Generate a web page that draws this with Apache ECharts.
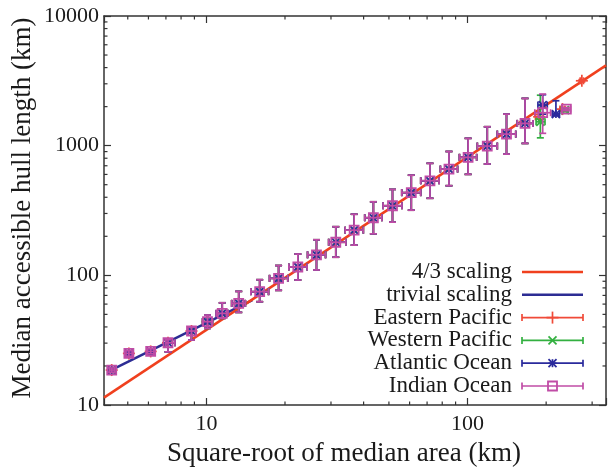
<!DOCTYPE html>
<html><head><meta charset="utf-8">
<script src="https://cdn.jsdelivr.net/npm/echarts@6/dist/echarts.min.js"></script>
<style>html,body{margin:0;padding:0;background:#fff}#c{width:609px;height:467px}</style>
</head><body><div id="c"></div><script>
// ---- axis ranges & ticks ----
const X_MIN = 4.055, X_MAX = 339;
const Y_MIN = 10, Y_MAX = 10000;
const xMinorTicks = [5, 6, 7, 8, 9, 20, 30, 40, 50, 60, 70, 80, 90, 200, 300];
const yMinorTicks = [20, 30, 40, 50, 60, 70, 80, 90, 200, 300, 400, 500, 600, 700, 800, 900, 2000, 3000, 4000, 5000, 6000, 7000, 8000, 9000];

// ---- fitted lines ----
const scaling43 = [[4.055, 11.4], [339, 4160]];
const scalingTrivial = [[4.3, 18.5], [15, 64.5]];

// ---- binned data shared by all four basins (they overlap in the plot) ----
const binX   = [4.34, 5.05, 6.12, 7.13, 8.77, 10.1, 11.5, 13.3, 16.0, 18.9, 22.4, 26.4, 31.3, 36.8, 43.6, 51.6, 60.9, 71.8, 84.9, 100.5, 119, 141, 166];
const binY   = [18.6, 25.0, 25.9, 30.2, 37.2, 43.9, 50.9, 60.8, 74.8, 94.8, 116, 144, 180, 223, 278, 344, 434, 536, 660, 813, 993, 1228, 1485];
const binYLo = [17.9, 23.8, 24.8, 25.7, 31.7, 39.0, 46.6, 51.8, 62.6, 76.6, 92, 110, 138, 171, 209, 257, 318, 393, 491, 601, 722, 861, 1041];
const binYHi = [19.3, 26.2, 27.1, 31.9, 40.0, 49.4, 61.4, 75.2, 92.5, 119, 146, 188, 237, 296, 369, 460, 592, 731, 902, 1139, 1399, 1751, 2315];
const binXLo = [4.25, 4.92, 5.95, 7.0, 8.5, 9.67, 10.9, 12.5, 14.8, 17.45, 20.7, 24.4, 29.4, 34.0, 40.4, 47.5, 56.0, 66.2, 78.7, 93.1, 109, 130, 155];
const binXHi = [4.45, 5.2, 6.3, 7.58, 9.1, 10.55, 12.1, 14.1, 17.3, 20.5, 24.3, 28.6, 34.2, 39.9, 47.0, 56.1, 66.2, 77.8, 91.6, 108.4, 130, 153, 178];

// ---- per-basin largest-size bins ----
const epTailX = [188, 231, 274],  epTailY = [1670, 1914, 3165];
const epTailXLo = [182, 226, 270], epTailXHi = [195, 236, 278];
const epTailYLo = [1600, 1860, 3100], epTailYHi = [1740, 1970, 3230];

const wpTailX = [190, 236], wpTailY = [1527, 1880];
const wpTailXLo = [183, 229], wpTailXHi = [198, 243];
const wpTailYLo = [1149, 1830], wpTailYHi = [2450, 1930];

const atTailX = [194, 218], atTailY = [2056, 1754];
const atTailXLo = [186, 211], atTailXHi = [202, 225];
const atTailYLo = [1750, 1700], atTailYHi = [2470, 2220];

const inTailX = [194, 239], inTailY = [1795, 1914];
const inTailXLo = [181, 230], inTailXHi = [208, 248];
const inTailYLo = [1245, 1860], inTailYHi = [2500, 1970];

const legendLabels = ['4/3 scaling', 'trivial scaling', 'Eastern Pacific', 'Western Pacific', 'Atlantic Ocean', 'Indian Ocean'];

// ---- styling ----
const FONT = 'Liberation Serif';
const RED = '#f0401e', NAVY = '#2c2c94';
const C_EP = '#f04a38', C_WP = '#33b040', C_AT = '#2a2a9c', C_IN = '#c04ca6';
const AX = '#333';

function rows(xs, ys, xl, xh, yl, yh) {
  return xs.map((x, i) => [x, ys[i], xl[i], xh[i], yl[i], yh[i]]);
}
function seg(x1, y1, x2, y2, color, lw) {
  return {type: 'line', shape: {x1, y1, x2, y2}, style: {stroke: color, lineWidth: lw || 1.7}};
}
function markerShapes(kind, cx, cy, color) {
  if (kind === 'plus') { const s = 6; return [seg(cx - s, cy, cx + s, cy, color), seg(cx, cy - s, cx, cy + s, color)]; }
  if (kind === 'cross') { const s = 4; return [seg(cx - s, cy - s, cx + s, cy + s, color), seg(cx - s, cy + s, cx + s, cy - s, color)]; }
  if (kind === 'star') { const s = 4; return [seg(cx - s, cy, cx + s, cy, color), seg(cx, cy - s, cx, cy + s, color), seg(cx - s, cy - s, cx + s, cy + s, color), seg(cx - s, cy + s, cx + s, cy - s, color)]; }
  const s = 4.5;
  return [{type: 'rect', shape: {x: cx - s, y: cy - s, width: 2 * s, height: 2 * s}, style: {stroke: color, lineWidth: 1.8, fill: 'none'}}];
}
function errRender(kind, color) {
  return function (params, api) {
    const x = api.value(0), y = api.value(1);
    const p = api.coord([x, y]);
    const pl = api.coord([api.value(2), y]), pr = api.coord([api.value(3), y]);
    const pb = api.coord([x, api.value(4)]), pt = api.coord([x, api.value(5)]);
    const c = 3.5;
    const ch = [
      seg(pl[0], p[1], pr[0], p[1], color), seg(pl[0], p[1] - c, pl[0], p[1] + c, color), seg(pr[0], p[1] - c, pr[0], p[1] + c, color),
      seg(p[0], pt[1], p[0], pb[1], color), seg(p[0] - c, pt[1], p[0] + c, pt[1], color), seg(p[0] - c, pb[1], p[0] + c, pb[1], color)
    ].concat(markerShapes(kind, p[0], p[1], color));
    return {type: 'group', children: ch};
  };
}
function errSeries(name, kind, color, data) {
  return {name, type: 'custom', coordinateSystem: 'cartesian2d', renderItem: errRender(kind, color),
    encode: {x: 0, y: 1}, data, clip: false, z: 5, silent: true};
}
const labelFmt = v => { const l = Math.log10(v); return Math.abs(l - Math.round(l)) < 1e-6 ? String(Math.round(v)) : ''; };

const epData = rows(binX.concat(epTailX), binY.concat(epTailY), binXLo.concat(epTailXLo), binXHi.concat(epTailXHi), binYLo.concat(epTailYLo), binYHi.concat(epTailYHi));
const wpData = rows(binX.concat(wpTailX), binY.concat(wpTailY), binXLo.concat(wpTailXLo), binXHi.concat(wpTailXHi), binYLo.concat(wpTailYLo), binYHi.concat(wpTailYHi));
const atData = rows(binX.concat(atTailX), binY.concat(atTailY), binXLo.concat(atTailXLo), binXHi.concat(atTailXHi), binYLo.concat(atTailYLo), binYHi.concat(atTailYHi));
const inData = rows(binX.concat(inTailX), binY.concat(inTailY), binXLo.concat(inTailXLo), binXHi.concat(inTailXHi), binYLo.concat(inTailYLo), binYHi.concat(inTailYHi));

// legend graphics
const LEG_TX = 512, LEG_X1 = 522, LEG_X2 = 583, LEG_Y0 = 272, LEG_DY = 22.8;
const legendKinds = [null, null, 'plus', 'cross', 'star', 'square'];
const legendColors = [RED, NAVY, C_EP, C_WP, C_AT, C_IN];
const graphics = [];
legendLabels.forEach((t, i) => {
  const y = LEG_Y0 + i * LEG_DY;
  graphics.push({type: 'text', x: LEG_TX, y: y, style: {text: t, font: '23px "' + FONT + '"', fill: '#1a1a1a', align: 'right', verticalAlign: 'middle'}});
  if (i < 2) {
    graphics.push(seg(LEG_X1, y, LEG_X2, y, legendColors[i], 2.5));
  } else {
    const col = legendColors[i], c = 3.5, mid = (LEG_X1 + LEG_X2) / 2;
    [seg(LEG_X1, y, LEG_X2, y, col), seg(LEG_X1, y - c, LEG_X1, y + c, col), seg(LEG_X2, y - c, LEG_X2, y + c, col)]
      .concat(markerShapes(legendKinds[i], mid, y, col)).forEach(g => graphics.push(g));
  }
});
graphics.push({type: 'text', x: 344, y: 454, style: {text: 'Square-root of median area (km)', font: '27px "' + FONT + '"', fill: '#1a1a1a', align: 'center', verticalAlign: 'middle'}});
graphics.push({type: 'text', x: 23, y: 208, rotation: Math.PI / 2, style: {text: 'Median accessible hull length (km)', font: '27px "' + FONT + '"', fill: '#1a1a1a', align: 'center', verticalAlign: 'middle'}});

const axisCommon = {
  type: 'log', logBase: 10,
  axisLine: {show: true, lineStyle: {color: AX, width: 1.5}},
  axisTick: {show: true, inside: true, length: 7, lineStyle: {color: AX, width: 1.2}},
  splitLine: {show: false}, minorTick: {show: false}
};

const chart = echarts.init(document.getElementById('c'), null, {renderer: 'canvas'});
chart.setOption({
  animation: false,
  backgroundColor: '#fff',
  grid: {left: 104, right: 1, top: 16, bottom: 62},
  xAxis: [
    Object.assign({}, axisCommon, {position: 'bottom', min: X_MIN, max: X_MAX,
      axisLabel: {formatter: labelFmt, fontFamily: FONT, fontSize: 22, color: '#1a1a1a', margin: 8}}),
    Object.assign({}, axisCommon, {position: 'top', min: X_MIN, max: X_MAX, axisLabel: {show: false}})
  ],
  yAxis: [
    Object.assign({}, axisCommon, {position: 'left', min: Y_MIN, max: Y_MAX,
      axisLabel: {formatter: labelFmt, fontFamily: FONT, fontSize: 22, color: '#1a1a1a', margin: 5}}),
    Object.assign({}, axisCommon, {position: 'right', min: Y_MIN, max: Y_MAX, axisLabel: {show: false}})
  ],
  graphic: graphics,
  series: [
    {type: 'custom', silent: true, clip: false, encode: {x: 0, y: 1},
      data: xMinorTicks.map(v => [v, Y_MIN]),
      renderItem: (p, api) => { const b = api.coord([api.value(0), Y_MIN]), t = api.coord([api.value(0), Y_MAX]);
        return {type: 'group', children: [seg(b[0], b[1], b[0], b[1] - 3.5, AX, 1.2), seg(t[0], t[1], t[0], t[1] + 3.5, AX, 1.2)]}; }},
    {type: 'custom', silent: true, clip: false, encode: {x: 0, y: 1},
      data: yMinorTicks.map(v => [X_MIN, v]),
      renderItem: (p, api) => { const l = api.coord([X_MIN, api.value(1)]), r = api.coord([X_MAX, api.value(1)]);
        return {type: 'group', children: [seg(l[0], l[1], l[0] + 3.5, l[1], AX, 1.2), seg(r[0], r[1], r[0] - 3.5, r[1], AX, 1.2)]}; }},
    {name: '4/3 scaling', type: 'line', data: scaling43, symbol: 'none', lineStyle: {color: RED, width: 2.5}, z: 3, silent: true},
    {name: 'trivial scaling', type: 'line', data: scalingTrivial, symbol: 'none', lineStyle: {color: NAVY, width: 2.5}, z: 2, silent: true},
    errSeries('Eastern Pacific', 'plus', C_EP, epData),
    errSeries('Western Pacific', 'cross', C_WP, wpData),
    errSeries('Atlantic Ocean', 'star', C_AT, atData),
    errSeries('Indian Ocean', 'square', C_IN, inData)
  ]
});
</script></body></html>
